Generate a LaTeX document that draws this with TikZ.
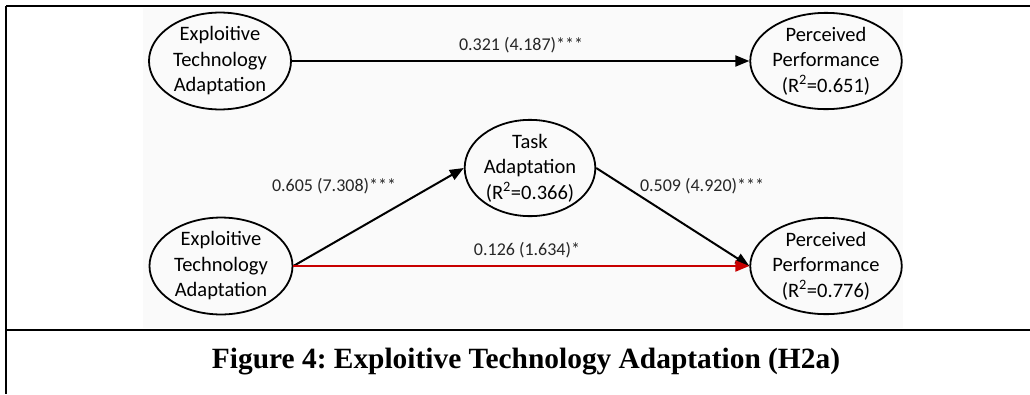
\documentclass[tikz,border=0pt]{standalone}
\usepackage{fontspec}
\setmainfont{Liberation Serif}
\newfontfamily\calfont{Carlito}
\usetikzlibrary{arrows.meta,shapes.geometric}
\definecolor{darkred}{RGB}{200,0,0}
\frenchspacing
\begin{document}
\begin{tikzpicture}[x=1pt,y=-1pt,
  lv/.style={ellipse,draw,line width=1.8pt,minimum width=#1,inner sep=0pt,align=center,font=\calfont\fontsize{20.5}{25.5}\selectfont},
  lv/.default=142pt,
  arr/.style={line width=2pt,-{Triangle[length=14pt,width=11pt]}},
  lab/.style={font=\calfont\fontsize{18}{20}\selectfont,text=black!85},
  frame/.style={line width=2pt}]
\useasboundingbox (0,0) rectangle (1030,394);
\fill[white] (0,0) rectangle (1030,394);
\fill[black!2] (143,8) rectangle (903,328);
\draw[frame] (6,6) -- (1030,6);
\draw[frame] (6,6) -- (6,394);
\draw[frame] (6,330) -- (1030,330);
\node[lv, minimum height=92pt] (eta1) at (220,61) {Exploitive\\Technology\\Adaptation};
\node[lv, minimum height=92pt] (pp1) at (826,61) {Perceived\\Performance\\(R\textsuperscript{2}=0.651)};
\node[lv=128pt, minimum height=93pt] (ta) at (530,168) {Task\\Adaptation\\(R\textsuperscript{2}=0.366)};
\node[lv=143pt, minimum height=94pt] (eta2) at (221,266) {Exploitive\\Technology\\Adaptation};
\node[lv, minimum height=93pt] (pp2) at (826,266) {Perceived\\Performance\\(R\textsuperscript{2}=0.776)};
\draw[arr] (eta1) -- (pp1);
\draw[arr] (eta2.east) -- (ta.west);
\draw[arr] (ta.east) -- (pp2.west);
\draw[arr,darkred] (eta2.east) -- (pp2.west);
\node[lab] at (521,45) {0.321 (4.187)***};
\node[lab] at (334,186) {0.605 (7.308)***};
\node[lab] at (702,186) {0.509 (4.920)***};
\node[lab] at (527,250) {0.126 (1.634)*};
\node[font=\bfseries\fontsize{29.4}{32}\selectfont] (cap) at (526,362) {Figure 4: Exploitive Technology Adaptation (H2a)};
\end{tikzpicture}
\end{document}
